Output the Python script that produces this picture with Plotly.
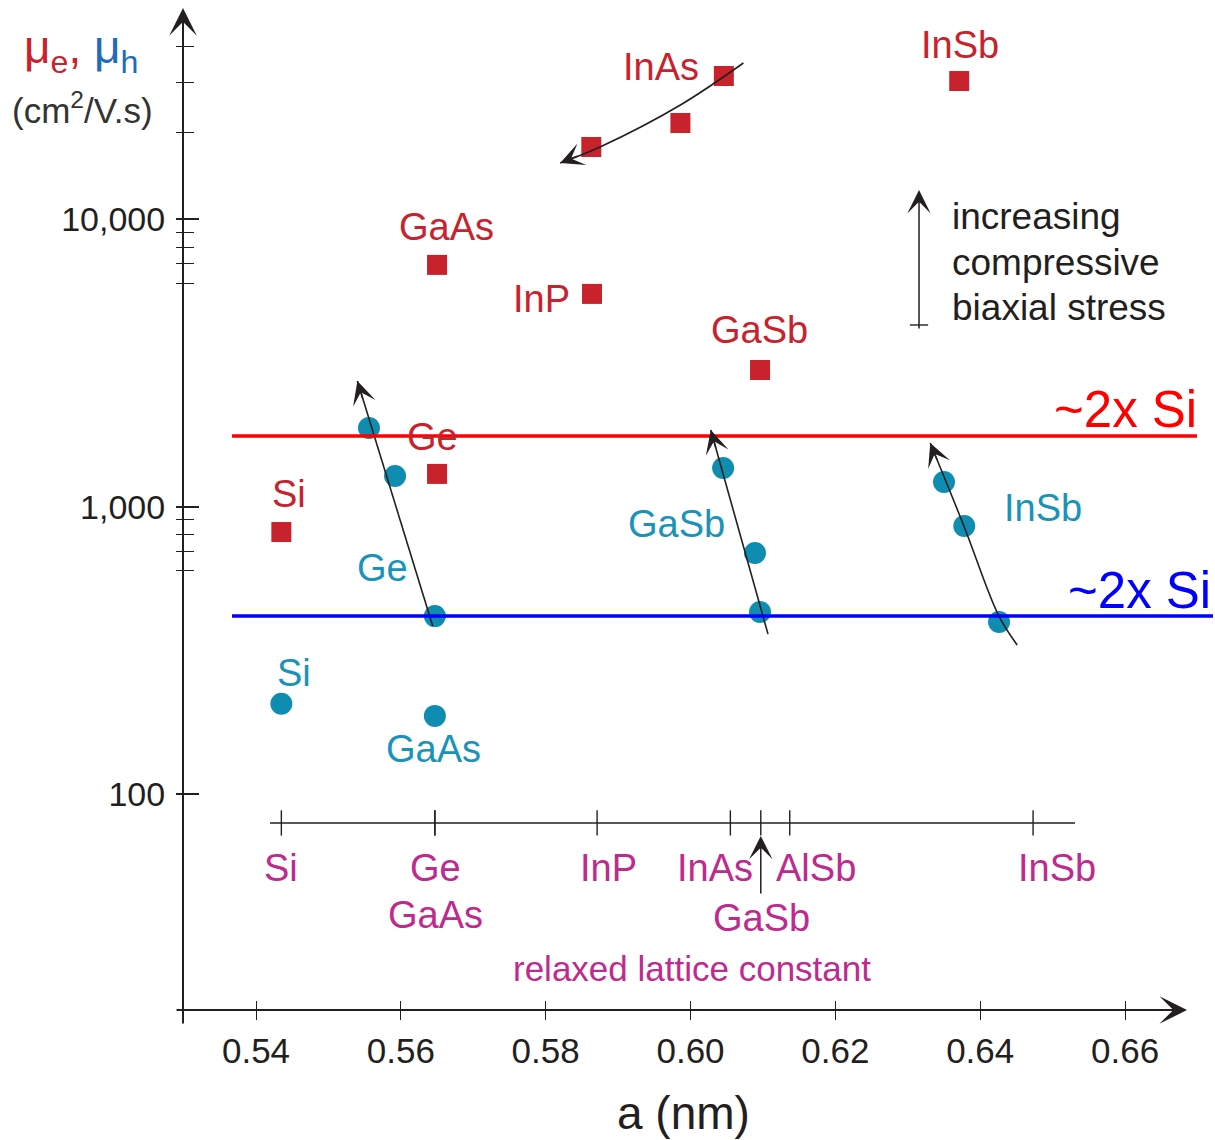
import numpy as np
import plotly.graph_objects as go

# ---------------- data ----------------
# electron mobility (red squares)
e_names = ["Si", "Ge", "GaAs", "InP", "GaSb", "InAs", "InAs", "InAs", "InSb"]
e_a = [0.5435, 0.5650, 0.5650, 0.5864, 0.6096, 0.5863, 0.5986, 0.6046, 0.6371]
e_mu = [816, 1300, 6940, 5500, 2990, 17850, 21640, 31530, 30290]

# hole mobility (teal circles)
h_names = ["Si", "GaAs", "Ge", "Ge", "Ge", "GaSb", "GaSb", "GaSb", "InSb", "InSb", "InSb"]
h_a = [0.5435, 0.5647, 0.5556, 0.5592, 0.5647, 0.6045, 0.6089, 0.6096, 0.6350, 0.6378, 0.6426]
h_mu = [206, 187, 1878, 1278, 416, 1363, 690, 430, 1218, 856, 397]

# "~2x Si" reference levels
e_ref_level = 1762
h_ref_level = 416

# relaxed lattice constants (secondary scale)
lattice_names = ["Si", "Ge", "GaAs", "InP", "InAs", "GaSb", "AlSb", "InSb"]
lattice_a = [0.5435, 0.5647, 0.5647, 0.5871, 0.6055, 0.6097, 0.6137, 0.6473]

# strain trend arrows (tail -> tip)
arrow_ge_a = [0.5644, 0.5540]
arrow_ge_mu = [384, 2736]
arrow_gasb_a = [0.6107, 0.6028]
arrow_gasb_mu = [360, 1848]
arrow_insb_a = [0.6451, 0.6425, 0.6378, 0.6331]
arrow_insb_mu = [330, 420, 850, 1665]
arrow_inas_a = [0.6073, 0.5986, 0.5875, 0.5820]
arrow_inas_mu = [35000, 25000, 17855, 15704]

# legend arrow "increasing compressive biaxial stress"
stress_a = 0.63155
stress_mu = [4120, 12650]
stress_bar_mu = 4288

# axis ticks
x_tickvals = [0.54, 0.56, 0.58, 0.60, 0.62, 0.64, 0.66]
x_ticktext = ["0.54", "0.56", "0.58", "0.60", "0.62", "0.64", "0.66"]
y_tickvals = [100, 1000, 10000]
y_ticktext = ["100", "1,000", "10,000"]
y_minorvals = [600, 700, 800, 900, 6000, 7000, 8000, 9000, 20000, 30000, 40000]

# ---------------- style / layout ----------------
W, H = 1215, 1140
ML, MR, MT, MB = 183, 0, 0, 130
XR = [0.52992, 0.67242]
YR = [1.2482, 4.7633]
FONT = "Liberation Sans, Arial, Helvetica, sans-serif"
BLACK = "#231F20"
RED = "#C8232D"
TEAL = "#0F8DB0"
TEAL_T = "#1A93B8"
MAG = "#BE2A8E"
sec_axis_level = 79.3
sec_axis_span = [0.54193, 0.65309]

plot_w = W - ML - MR
plot_h = H - MT - MB
px_x = plot_w / (XR[1] - XR[0])
px_dec = plot_h / (YR[1] - YR[0])

fig = go.Figure()

# markers
fig.add_trace(go.Scatter(x=h_a, y=h_mu, mode="markers",
                         marker=dict(symbol="circle", size=22, color=TEAL, line=dict(width=0)),
                         hoverinfo="skip", showlegend=False))
fig.add_trace(go.Scatter(x=e_a, y=e_mu, mode="markers",
                         marker=dict(symbol="square", size=20, color=RED, line=dict(width=0)),
                         hoverinfo="skip", showlegend=False))

# trend arrow bodies
arrow_sets = [(arrow_ge_a, arrow_ge_mu), (arrow_gasb_a, arrow_gasb_mu),
              (arrow_insb_a, arrow_insb_mu), (arrow_inas_a, arrow_inas_mu)]
for ax_, ay_ in arrow_sets:
    fig.add_trace(go.Scatter(x=ax_, y=ay_, mode="lines",
                             line=dict(color=BLACK, width=1.6, shape="spline", smoothing=1.0),
                             hoverinfo="skip", showlegend=False))

# reference lines
fig.add_trace(go.Scatter(x=[0.53669, 0.66993], y=[e_ref_level, e_ref_level], mode="lines",
                         line=dict(color="#FF0000", width=3.5), hoverinfo="skip", showlegend=False))
fig.add_trace(go.Scatter(x=[0.53669, 0.67214], y=[h_ref_level, h_ref_level], mode="lines",
                         line=dict(color="#0000FF", width=3.5), hoverinfo="skip", showlegend=False))

# secondary (relaxed lattice constant) scale
fig.add_trace(go.Scatter(x=sec_axis_span, y=[sec_axis_level] * 2, mode="lines",
                         line=dict(color=BLACK, width=1.6), hoverinfo="skip", showlegend=False))
fig.add_trace(go.Scatter(x=lattice_a, y=[sec_axis_level] * len(lattice_a), mode="markers",
                         marker=dict(symbol="line-ns", size=18, line=dict(color=BLACK, width=1.4)),
                         hoverinfo="skip", showlegend=False))

# stress legend bar
fig.add_trace(go.Scatter(x=[stress_a], y=[stress_bar_mu], mode="markers",
                         marker=dict(symbol="line-ew", size=13, line=dict(color=BLACK, width=1.4)),
                         hoverinfo="skip", showlegend=False))

# dummy trace for overlay axes (inner tick halves)
fig.add_trace(go.Scatter(x=[0.6], y=[1000], xaxis="x2", yaxis="y2", mode="markers",
                         marker=dict(opacity=0), hoverinfo="skip", showlegend=False))

ann = []


def label(x, y, text, color, size, dx=0, dy=0, xanchor="center", yanchor="middle"):
    ann.append(dict(x=x, y=np.log10(y), xref="x", yref="y", text=text, showarrow=False,
                    xshift=dx, yshift=dy, xanchor=xanchor, yanchor=yanchor,
                    font=dict(family=FONT, size=size, color=color)))


# electron labels: (index, dx, dy)
e_lab = [(0, 8, 38), (1, -5, 37), (2, 9, 38), (3, -51, -5), (4, -1, 40), (7, -63, 9), (8, 1, 36)]
for i, dx, dy in e_lab:
    label(e_a[i], e_mu[i], e_names[i], RED, 38, dx, dy)

# hole labels
h_lab = [(0, 13, 31), (1, -1, -33), (4, -52, 48), (6, -78, 29), (9, 79, 18)]
for i, dx, dy in h_lab:
    label(h_a[i], h_mu[i], h_names[i], TEAL_T, 38, dx, dy)

# lattice labels
lat_off = {"Si": (0, -45), "Ge": (1, -45), "GaAs": (1, -92), "InP": (11, -45),
           "InAs": (-15, -45), "GaSb": (1, -95), "AlSb": (26, -45), "InSb": (24, -45)}
for n, a in zip(lattice_names, lattice_a):
    dx, dy = lat_off[n]
    label(a, sec_axis_level, n, MAG, 38, dx, dy)
label((sec_axis_span[0] + sec_axis_span[1]) / 2, sec_axis_level, "relaxed lattice constant",
      MAG, 35, 20, -146)

# ~2x Si labels
label(0.66993, e_ref_level, "~2x Si", "#FF0000", 51, 2, -4, xanchor="right", yanchor="bottom")
label(0.67214, h_ref_level, "~2x Si", "#0000FF", 51, 0, -5, xanchor="right", yanchor="bottom")

# stress text
for k, (t, dy) in enumerate([("increasing", -27), ("compressive", -73), ("biaxial stress", -118)]):
    label(stress_a, stress_mu[1], t, BLACK, 37, 31, dy, xanchor="left")


def arrow_head(xs, ys, head=3, w=1.5, s=2.6):
    dxp = (xs[-1] - xs[-2]) * px_x
    dyp = -(np.log10(ys[-1]) - np.log10(ys[-2])) * px_dec
    n = np.hypot(dxp, dyp)
    ann.append(dict(x=xs[-1], y=np.log10(ys[-1]), xref="x", yref="y", text="",
                    showarrow=True, arrowhead=head, arrowwidth=w, arrowsize=s, arrowcolor=BLACK,
                    ax=-dxp / n * 20, ay=-dyp / n * 20))


for ax_, ay_ in arrow_sets:
    arrow_head(ax_, ay_)

# stress legend arrow
ann.append(dict(x=stress_a, y=np.log10(stress_mu[1]), xref="x", yref="y", text="",
                showarrow=True, arrowhead=3, arrowwidth=1.5, arrowsize=2.6, arrowcolor=BLACK,
                axref="x", ayref="y", ax=stress_a, ay=np.log10(stress_mu[0])))

# small up arrow at GaSb on the lattice scale
ann.append(dict(x=lattice_a[5], y=np.log10(sec_axis_level), xref="x", yref="y", text="",
                showarrow=True, arrowhead=3, arrowwidth=1.5, arrowsize=2.6, arrowcolor=BLACK,
                ax=0, ay=72, standoff=13))

# main axes lines with arrows
ann.append(dict(x=0, y=0.992, xref="paper", yref="paper", text="", showarrow=True,
                arrowhead=3, arrowwidth=2, arrowsize=2.3, arrowcolor=BLACK, ax=0, ay=1017))
ann.append(dict(x=0.9729, y=0, xref="paper", yref="paper", text="", showarrow=True,
                arrowhead=3, arrowwidth=2, arrowsize=2.3, arrowcolor=BLACK, ax=-1012, ay=0))

# x-axis title
ann.append(dict(x=0.4845, y=0, xref="paper", yref="paper", yshift=-103,
                xanchor="center", yanchor="middle", showarrow=False,
                text="a (nm)", font=dict(family=FONT, size=46, color=BLACK)))

# y-axis title
ann.append(dict(x=0, y=1, xref="paper", yref="paper", xshift=-102, yshift=-50,
                xanchor="center", yanchor="middle", showarrow=False,
                text=f'<span style="color:{RED}">μ<sub>e</sub>,</span> '
                     f'<span style="color:#1F6DB4">μ<sub>h</sub></span>',
                font=dict(family=FONT, size=46, color=RED)))
ann.append(dict(x=0, y=1, xref="paper", yref="paper", xshift=-101, yshift=-108,
                xanchor="center", yanchor="middle", showarrow=False,
                text="(cm<sup>2</sup>/V.s)", font=dict(family=FONT, size=35, color="#333333")))

tickfont = dict(family=FONT, size=34, color=BLACK)
fig.update_layout(
    width=W, height=H, margin=dict(l=ML, r=MR, t=MT, b=MB),
    paper_bgcolor="white", plot_bgcolor="white", showlegend=False,
    annotations=ann,
    xaxis=dict(range=XR, showgrid=False, zeroline=False, showline=False,
               tickmode="array", tickvals=x_tickvals, ticktext=x_ticktext,
               ticks="outside", ticklen=9, tickwidth=1.4, tickcolor=BLACK,
               tickfont=dict(family=FONT, size=35, color=BLACK), ticklabelstandoff=1),
    yaxis=dict(type="log", range=YR, showgrid=False, zeroline=False, showline=False,
               tickmode="array", tickvals=y_tickvals, ticktext=y_ticktext,
               ticks="outside", ticklen=6, tickwidth=2.4, tickcolor=BLACK,
               tickfont=tickfont, ticklabelstandoff=4,
               minor=dict(tickmode="array", tickvals=y_minorvals, ticks="outside",
                          ticklen=6, tickwidth=1.4, tickcolor=BLACK, showgrid=False)),
    xaxis2=dict(range=XR, overlaying="x", anchor="y2", side="bottom", showgrid=False,
                zeroline=False, showline=False, tickmode="array", tickvals=x_tickvals,
                ticks="inside", ticklen=9, tickwidth=1.4, tickcolor=BLACK, showticklabels=False),
    yaxis2=dict(type="log", range=YR, overlaying="y", anchor="x2", side="left", showgrid=False,
                zeroline=False, showline=False, tickmode="array", tickvals=y_tickvals,
                ticks="inside", ticklen=16, tickwidth=2.4, tickcolor=BLACK, showticklabels=False,
                minor=dict(tickmode="array", tickvals=y_minorvals, ticks="inside",
                           ticklen=11, tickwidth=1.4, tickcolor=BLACK, showgrid=False)),
)

fig.write_html("out.html", config={"displayModeBar": False},
               post_script="document.body.style.margin='0px';")
